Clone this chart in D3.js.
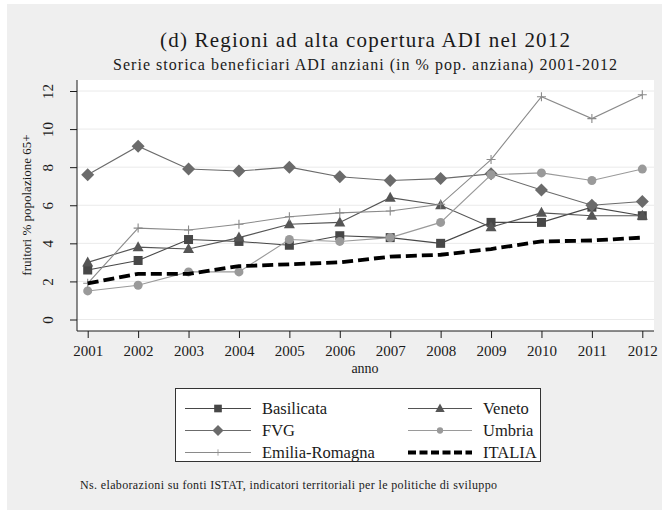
<!DOCTYPE html>
<html>
<head>
<meta charset="utf-8">
<script src="https://cdn.jsdelivr.net/npm/d3@7"></script>
<style>
  body { margin: 0; background: #fff; }
  text { font-family: "Liberation Serif", "DejaVu Serif", serif; fill: #1a1a1a; }
</style>
</head>
<body>
<div id="chart"></div>
<script>
// data
var years = [2001, 2002, 2003, 2004, 2005, 2006, 2007, 2008, 2009, 2010, 2011, 2012];
var basilicata = [2.6, 3.1, 4.2, 4.1, 3.9, 4.4, 4.3, 4.0, 5.1, 5.1, 5.9, 5.45];
var veneto = [3.0, 3.8, 3.7, 4.3, 5.0, 5.1, 6.4, 6.0, 4.85, 5.6, 5.45, 5.45];
var fvg = [7.6, 9.1, 7.9, 7.8, 8.0, 7.5, 7.3, 7.4, 7.65, 6.8, 6.0, 6.2];
var umbria = [1.5, 1.8, 2.5, 2.5, 4.2, 4.1, 4.3, 5.1, 7.6, 7.7, 7.3, 7.9];
var emilia = [1.9, 4.8, 4.7, 5.0, 5.4, 5.6, 5.7, 6.05, 8.4, 11.7, 10.55, 11.8];
var italia = [1.9, 2.4, 2.4, 2.8, 2.9, 3.0, 3.3, 3.4, 3.7, 4.1, 4.15, 4.3];
var yTicks = [0, 2, 4, 6, 8, 10, 12];

var series = [
    {name: "Basilicata", values: basilicata, color: "#474747", marker: "square"},
    {name: "Veneto", values: veneto, color: "#555555", marker: "triangle"},
    {name: "FVG", values: fvg, color: "#6b6b6b", marker: "diamond"},
    {name: "Umbria", values: umbria, color: "#9a9a9a", marker: "circle"},
    {name: "Emilia-Romagna", values: emilia, color: "#8a8a8a", marker: "plus"},
    {name: "ITALIA", values: italia, color: "#000000", marker: "none"}
];

var width = 662, height = 510;
var svg = d3.select("#chart").append("svg")
    .attr("width", width)
    .attr("height", height);

// outer gray background
svg.append("rect")
    .attr("x", 7).attr("y", 4)
    .attr("width", width - 7).attr("height", height - 4)
    .attr("fill", "#efefef");

var plot = {left: 77, right: 654, top: 80, bottom: 331};

svg.append("rect")
    .attr("x", plot.left).attr("y", plot.top)
    .attr("width", plot.right - plot.left).attr("height", plot.bottom - plot.top)
    .attr("fill", "#ffffff");

var x = d3.scalePoint()
    .domain(years)
    .range([87.7, 642.3]);

var y = d3.scaleLinear()
    .domain([0, 12])
    .range([319.5, 91]);

// gridlines
svg.append("g")
    .selectAll("line")
    .data(yTicks)
    .enter().append("line")
    .attr("x1", plot.left).attr("x2", plot.right)
    .attr("y1", function(d) { return y(d); })
    .attr("y2", function(d) { return y(d); })
    .attr("stroke", "#eaeaea")
    .attr("stroke-width", 1);

// axes
var yAxis = svg.append("g")
    .attr("transform", "translate(" + plot.left + ",0)")
    .call(d3.axisLeft(y).tickValues(yTicks).tickSize(7).tickPadding(5));
yAxis.select(".domain").attr("d", "M0," + plot.top + "V" + plot.bottom).attr("stroke", "#1a1a1a");
yAxis.selectAll(".tick line").attr("stroke", "#1a1a1a");
yAxis.selectAll(".tick text")
    .attr("transform", "rotate(-90)")
    .attr("x", 0).attr("y", -24)
    .attr("dy", "0")
    .attr("text-anchor", "middle")
    .style("font-size", "15px")
    .style("font-family", "Liberation Serif")
    .attr("fill", "#1a1a1a");

var xAxis = svg.append("g")
    .attr("transform", "translate(0," + plot.bottom + ")")
    .call(d3.axisBottom(x).tickSize(7).tickPadding(7).tickFormat(d3.format("d")));
xAxis.select(".domain").attr("d", "M" + plot.left + ",0H" + plot.right).attr("stroke", "#1a1a1a");
xAxis.selectAll(".tick line").attr("stroke", "#1a1a1a");
xAxis.selectAll(".tick text")
    .style("font-size", "15px")
    .style("font-family", "Liberation Serif")
    .attr("fill", "#1a1a1a");

// titles
svg.append("text")
    .attr("x", 365).attr("y", 47)
    .attr("text-anchor", "middle")
    .attr("textLength", 410)
    .attr("lengthAdjust", "spacing")
    .style("font-size", "21px")
    .text("(d) Regioni ad alta copertura ADI nel 2012");

svg.append("text")
    .attr("x", 365).attr("y", 70)
    .attr("text-anchor", "middle")
    .attr("textLength", 504)
    .attr("lengthAdjust", "spacing")
    .style("font-size", "16px")
    .text("Serie storica beneficiari ADI anziani (in % pop. anziana) 2001-2012");

svg.append("text")
    .attr("transform", "translate(31,205) rotate(-90)")
    .attr("text-anchor", "middle")
    .style("font-size", "13px")
    .text("fruitori % popolazione 65+");

svg.append("text")
    .attr("x", 365).attr("y", 373)
    .attr("text-anchor", "middle")
    .style("font-size", "14px")
    .text("anno");

svg.append("text")
    .attr("x", 80).attr("y", 489)
    .attr("textLength", 417)
    .attr("lengthAdjust", "spacing")
    .style("font-size", "12px")
    .text("Ns. elaborazioni su fonti ISTAT, indicatori territoriali per le politiche di sviluppo");

// markers
function drawMarker(g, type, color) {
    if (type === "square") {
        g.append("rect").attr("x", -4.5).attr("y", -4.5).attr("width", 9).attr("height", 9).attr("fill", color);
    } else if (type === "triangle") {
        g.append("path").attr("d", "M0,-6L5.5,4L-5.5,4Z").attr("fill", color);
    } else if (type === "diamond") {
        g.append("path").attr("d", "M0,-6.5L6.5,0L0,6.5L-6.5,0Z").attr("fill", color);
    } else if (type === "circle") {
        g.append("circle").attr("r", 4.5).attr("fill", color);
    } else if (type === "plus") {
        g.append("path").attr("d", "M-4.5,0H4.5M0,-4.5V4.5").attr("stroke", color).attr("stroke-width", 1.1);
    }
}

var line = d3.line()
    .x(function(d, i) { return x(years[i]); })
    .y(function(d) { return y(d); });

series.forEach(function(s) {
    var isItalia = s.name === "ITALIA";
    svg.append("path")
        .datum(s.values)
        .attr("d", line)
        .attr("fill", "none")
        .attr("stroke", s.color)
        .attr("stroke-width", isItalia ? 3.8 : 1.1)
        .attr("stroke-dasharray", isItalia ? "11,5" : null);

    if (!isItalia) {
        svg.append("g").selectAll("g")
            .data(s.values)
            .enter().append("g")
            .attr("transform", function(d, i) { return "translate(" + x(years[i]) + "," + y(d) + ")"; })
            .each(function() { drawMarker(d3.select(this), s.marker, s.color); });
    }
});

// legend
var legend = svg.append("g");
legend.append("rect")
    .attr("x", 175.5).attr("y", 388.5)
    .attr("width", 365).attr("height", 73)
    .attr("fill", "#ffffff")
    .attr("stroke", "#333333")
    .attr("stroke-width", 1);

var rows = [408.5, 430.5, 452.5];
var cols = [{x1: 185, x2: 251, tx: 262}, {x1: 408, x2: 472, tx: 483}];

series.forEach(function(s, i) {
    var c = cols[i % 2], r = rows[Math.floor(i / 2)];
    var isItalia = s.name === "ITALIA";
    legend.append("line")
        .attr("x1", c.x1).attr("x2", c.x2)
        .attr("y1", r).attr("y2", r)
        .attr("stroke", s.color)
        .attr("stroke-width", isItalia ? 3.8 : 1.1)
        .attr("stroke-dasharray", isItalia ? "8,3.5" : null);
    if (!isItalia) {
        var mg = legend.append("g")
            .attr("transform", "translate(" + ((c.x1 + c.x2) / 2) + "," + r + ")" + (s.marker === "circle" || s.marker === "plus" ? " scale(0.7)" : " scale(0.85)"));
        drawMarker(mg, s.marker, s.color);
    }
    legend.append("text")
        .attr("x", c.tx).attr("y", r + 5)
        .style("font-size", "16.5px")
        .text(s.name);
});
</script>
</body>
</html>
